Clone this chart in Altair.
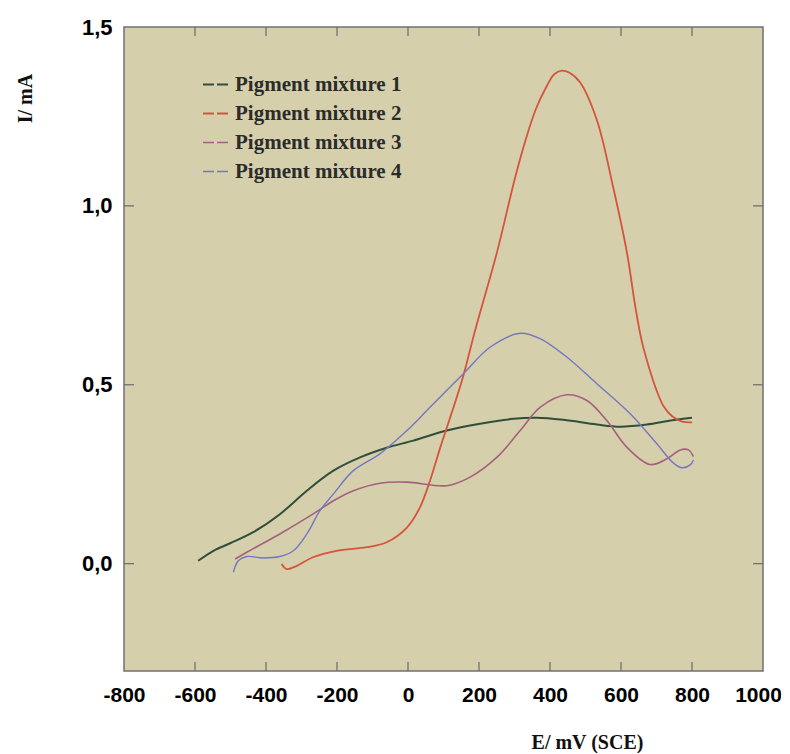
import altair as alt
import pandas as pd

# ---- data ----
series_names = ["Pigment mixture 1", "Pigment mixture 2", "Pigment mixture 3", "Pigment mixture 4"]
series_colors = ["#2f4f3c", "#d4553c", "#a4607f", "#7377c4"]

x1 = [-591, -548, -501, -436, -360, -285, -210, -135, -60, 15, 109, 203, 297, 363, 438, 532, 598, 673, 739, 800]
y1 = [0.008, 0.036, 0.057, 0.088, 0.139, 0.204, 0.260, 0.297, 0.324, 0.344, 0.372, 0.391, 0.405, 0.408, 0.402, 0.389, 0.383, 0.389, 0.400, 0.408]

x2 = [-356, -342, -313, -268, -201, -116, -60, -3, 34, 62, 91, 152, 189, 250, 302, 330, 360, 391, 412, 433, 455, 485, 532, 578, 617, 640, 659, 680, 700, 720, 744, 772, 800]
y2 = [-0.001, -0.015, -0.006, 0.018, 0.036, 0.046, 0.060, 0.101, 0.158, 0.232, 0.325, 0.512, 0.652, 0.868, 1.080, 1.180, 1.270, 1.335, 1.368, 1.378, 1.372, 1.345, 1.240, 1.052, 0.868, 0.720, 0.620, 0.545, 0.485, 0.440, 0.412, 0.397, 0.395]

x3 = [-487, -454, -361, -267, -210, -154, -79, -3, 109, 175, 250, 316, 372, 448, 504, 560, 617, 682, 729, 767, 790, 804]
y3 = [0.013, 0.032, 0.083, 0.139, 0.176, 0.204, 0.225, 0.228, 0.218, 0.242, 0.297, 0.372, 0.437, 0.472, 0.456, 0.400, 0.325, 0.277, 0.293, 0.318, 0.318, 0.299]

x4 = [-492, -478, -454, -408, -361, -323, -285, -248, -210, -154, -79, -3, 62, 156, 231, 316, 372, 448, 532, 626, 701, 748, 772, 795, 804]
y4 = [-0.024, 0.008, 0.020, 0.016, 0.020, 0.036, 0.083, 0.148, 0.195, 0.260, 0.307, 0.372, 0.437, 0.531, 0.605, 0.644, 0.629, 0.577, 0.503, 0.419, 0.335, 0.281, 0.268, 0.276, 0.290]

x_tick_labels = [-800, -600, -400, -200, 0, 200, 400, 600, 800, 1000]
x_inner_ticks = [-600, -400, -200, 0, 200, 400, 600, 800]
y_tick_labels = [0.0, 0.5, 1.0, 1.5]
y_inner_ticks = [0.0, 0.5, 1.0]

# ---- build tables ----
rows = []
for name, xs, ys in zip(series_names, [x1, x2, x3, x4], [y1, y2, y3, y4]):
    for a, b in zip(xs, ys):
        rows.append({"E": a, "I": b, "series": name})
df = pd.DataFrame(rows)
xt = pd.DataFrame({"E": x_inner_ticks})
yt = pd.DataFrame({"I": y_inner_ticks})

W, H = 639, 644
xscale = alt.Scale(domain=[-800, 1000], nice=False, zero=False)
yscale = alt.Scale(domain=[-0.3, 1.5], nice=False, zero=False)

lab_font = "Liberation Sans"

x_axis = alt.Axis(
    values=x_tick_labels, labelExpr="toString(datum.value)", ticks=False, tickSize=0,
    domain=False, grid=False, labelFont=lab_font, labelFontWeight="bold",
    labelFontSize=21, labelColor="#000", labelPadding=13, labelOverlap=False,
    labelFlush=False,
    labelOffset={"condition": {"test": "datum.value == 1000", "value": -5}, "value": 0},
    title="E/ mV (SCE)", titleFont="Liberation Serif",
    titleFontWeight="bold", titleFontSize=20, titleColor="#111",
    titleX=463, titleY=71, titleBaseline="middle", titleAlign="center",
)
y_axis = alt.Axis(
    values=y_tick_labels, labelExpr="replace(format(datum.value, '.1f'), '.', ',')",
    ticks=False, tickSize=0, domain=False, grid=False, labelFont=lab_font,
    labelFontWeight="bold", labelFontSize=22, labelColor="#000", labelPadding=12,
    labelOverlap=False, labelFlush=False, title="I/ mA", titleFont="Liberation Serif",
    titleFontWeight="bold", titleFontSize=20, titleColor="#111",
    titleX=-99, titleY=71, titleAngle=-90, titleBaseline="middle", titleAlign="center",
)

lines = alt.Chart(df).mark_line(interpolate="catmull-rom").encode(
    x=alt.X("E:Q", scale=xscale, axis=x_axis),
    y=alt.Y("I:Q", scale=yscale, axis=y_axis),
    color=alt.Color(
        "series:N",
        scale=alt.Scale(domain=series_names, range=series_colors),
        legend=alt.Legend(
            orient="none", legendX=78, legendY=44, title=None,
            symbolType="stroke", symbolSize=625, symbolStrokeWidth=1.5,
            symbolDash=[11, 3], labelFont="Liberation Serif", labelFontWeight="bold",
            labelFontSize=21, labelColor="#2b2b2b", labelOffset=6, rowPadding=5,
            padding=0, labelLimit=400,
        ),
    ),
    strokeWidth=alt.StrokeWidth(
        "series:N",
        scale=alt.Scale(domain=series_names, range=[2.0, 1.4, 1.4, 1.4]),
        legend=None,
    ),
)

tick_style = dict(color="#6a6a6a", strokeWidth=1.2)
xt_bottom = alt.Chart(xt).mark_rule(**tick_style).encode(
    x=alt.X("E:Q", scale=xscale, axis=x_axis), y=alt.value(H), y2=alt.value(H - 9))
xt_top = alt.Chart(xt).mark_rule(**tick_style).encode(
    x=alt.X("E:Q", scale=xscale, axis=x_axis), y=alt.value(0), y2=alt.value(9))
yt_left = alt.Chart(yt).mark_rule(**tick_style).encode(
    y=alt.Y("I:Q", scale=yscale, axis=y_axis), x=alt.value(0), x2=alt.value(10))
yt_right = alt.Chart(yt).mark_rule(**tick_style).encode(
    y=alt.Y("I:Q", scale=yscale, axis=y_axis), x=alt.value(W - 10), x2=alt.value(W))

chart = alt.layer(lines, xt_bottom, xt_top, yt_left, yt_right).properties(
    width=W, height=H,
    autosize=alt.AutoSizeParams(type="none"),
    padding={"left": 116, "top": 19, "right": 18, "bottom": 82},
).configure_view(
    fill="#d6cfab", stroke="#707070", strokeWidth=1.5
)

chart.save("out.html", embed_options={"renderer": "svg", "actions": False})
